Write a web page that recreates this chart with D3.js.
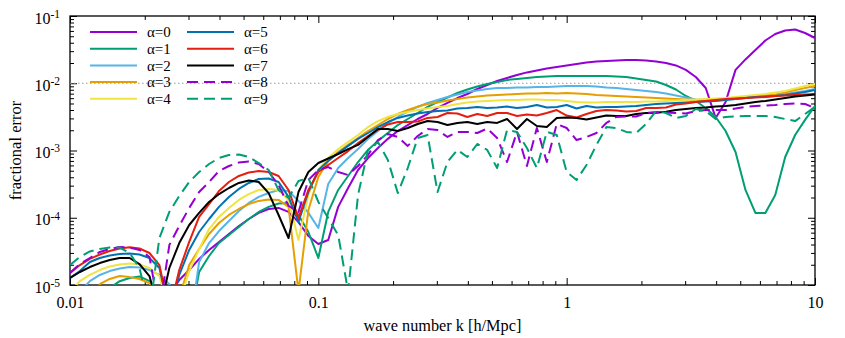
<!DOCTYPE html>
<html>
<head>
<meta charset="utf-8">
<script src="https://cdn.jsdelivr.net/npm/d3@7"></script>
<style>
  body { margin: 0; background: #fff; }
  svg { display: block; font-family: "Liberation Serif", "Times New Roman", serif; }
</style>
</head>
<body>
<div id="chart"></div>
<script>
// --------------------------------------
// Wave numbers k [h/Mpc], 25 points per decade
const kValues = [
    0.01, 0.01096, 0.01202, 0.01318, 0.01445, 0.01585, 0.01738, 0.01905, 0.02089, 0.02291,
    0.02512, 0.02754, 0.03020, 0.03311, 0.03631, 0.03981, 0.04365, 0.04786, 0.05248, 0.05754,
    0.06310, 0.06918, 0.07586, 0.08318, 0.09120,
    0.1, 0.1096, 0.1202, 0.1318, 0.1445, 0.1585, 0.1738, 0.1905, 0.2089, 0.2291,
    0.2512, 0.2754, 0.3020, 0.3311, 0.3631, 0.3981, 0.4365, 0.4786, 0.5248, 0.5754,
    0.6310, 0.6918, 0.7586, 0.8318, 0.9120,
    1, 1.096, 1.202, 1.318, 1.445, 1.585, 1.738, 1.905, 2.089, 2.291,
    2.512, 2.754, 3.020, 3.311, 3.631, 3.981, 4.365, 4.786, 5.248, 5.754,
    6.310, 6.918, 7.586, 8.318, 9.120,
    10
];

// Fractional error for each alpha (values under 1e-5 fall below the plot)
const err0 = [
    4e-6, 4e-6, 4e-6, 4e-6, 4e-6, 4e-6, 4e-6, 4e-6, 4e-6, 4e-6,
    7e-6, 1.19e-5, 1.67e-5, 2.44e-5, 3.32e-5, 4.37e-5, 5.73e-5, 7.54e-5, 9.58e-5, 1.18e-4,
    1.35e-4, 1.40e-4, 1.22e-4, 8.6e-5, 5.35e-5, 4.07e-5, 4.66e-5, 1.45e-4, 2.77e-4, 5.13e-4,
    7.73e-4, 1.09e-3, 1.49e-3, 1.95e-3, 2.39e-3, 2.94e-3, 3.49e-3, 4.29e-3, 5.09e-3, 6.03e-3,
    6.92e-3, 8.21e-3, 9.42e-3, 1.08e-2, 1.20e-2, 1.33e-2, 1.45e-2, 1.55e-2, 1.66e-2, 1.75e-2,
    1.84e-2, 1.93e-2, 2.04e-2, 2.11e-2, 2.14e-2, 2.18e-2, 2.22e-2, 2.22e-2, 2.18e-2, 2.11e-2,
    2.0e-2, 1.84e-2, 1.58e-2, 1.24e-2, 8.5e-3, 3.05e-3, 5.26e-3, 1.58e-2, 2.26e-2, 3.12e-2,
    4.32e-2, 5.40e-2, 6.09e-2, 6.29e-2, 5.59e-2, 4.71e-2
];
const err1 = [
    4e-6, 4e-6, 4e-6, 4e-6, 9e-6, 1.14e-5, 1.27e-5, 1.34e-5, 1.14e-5, 4e-6,
    4e-6, 4e-6, 2.5e-6, 1.56e-5, 2.70e-5, 4.21e-5, 5.54e-5, 7.29e-5, 9.58e-5, 1.22e-4,
    1.45e-4, 1.63e-4, 1.66e-4, 1.10e-4, 6.14e-5, 2.52e-5, 1.22e-4, 2.59e-4, 4.18e-4, 6.74e-4,
    1.02e-3, 1.39e-3, 1.82e-3, 2.39e-3, 2.94e-3, 3.61e-3, 4.44e-3, 5.26e-3, 6.14e-3, 7.16e-3,
    8.07e-3, 8.95e-3, 9.74e-3, 1.04e-2, 1.12e-2, 1.16e-2, 1.20e-2, 1.24e-2, 1.26e-2, 1.28e-2,
    1.28e-2, 1.28e-2, 1.28e-2, 1.28e-2, 1.28e-2, 1.26e-2, 1.24e-2, 1.18e-2, 1.12e-2, 1.06e-2,
    9.42e-3, 8.07e-3, 6.46e-3, 5.45e-3, 4.29e-3, 3.15e-3, 1.95e-3, 9.5e-4, 2.59e-4, 1.18e-4,
    1.18e-4, 2.18e-4, 8.0e-4, 1.70e-3, 2.85e-3, 4.59e-3
];
const err2 = [
    4e-6, 8e-6, 1.14e-5, 1.41e-5, 1.61e-5, 1.76e-5, 1.85e-5, 1.82e-5, 1.67e-5, 1.41e-5,
    1.03e-5, 4e-6, 2e-6, 2.20e-5, 4.21e-5, 6.35e-5, 8.95e-5, 1.26e-4, 1.66e-4, 2.04e-4,
    2.33e-4, 2.59e-4, 2.50e-4, 1.78e-4, 1.18e-4, 7.04e-5, 3.18e-4, 5.49e-4, 7.73e-4, 1.05e-3,
    1.49e-3, 1.95e-3, 2.57e-3, 3.15e-3, 3.80e-3, 4.44e-3, 5.09e-3, 5.64e-3, 6.24e-3, 6.80e-3,
    7.41e-3, 7.80e-3, 8.21e-3, 8.50e-3, 8.50e-3, 8.65e-3, 8.65e-3, 8.80e-3, 8.80e-3, 8.95e-3,
    9.1e-3, 9.1e-3, 9.1e-3, 8.95e-3, 8.65e-3, 8.50e-3, 8.21e-3, 7.93e-3, 7.67e-3, 7.41e-3,
    7.04e-3, 6.58e-3, 6.14e-3, 5.73e-3, 5.64e-3, 5.64e-3, 5.73e-3, 5.83e-3, 6.03e-3, 6.24e-3,
    6.46e-3, 6.69e-3, 6.92e-3, 7.29e-3, 7.67e-3, 8.21e-3
];
const err3 = [
    4e-6, 4e-6, 4e-6, 1.03e-5, 1.23e-5, 1.36e-5, 1.31e-5, 1.23e-5, 1.07e-5, 4e-6,
    4e-6, 6.5e-6, 1.98e-5, 3.43e-5, 5.73e-5, 8.35e-5, 1.10e-4, 1.35e-4, 1.60e-4, 1.78e-4,
    1.87e-4, 1.84e-4, 1.45e-4, 8e-6, 1.3e-4, 4.04e-4, 6.98e-4, 9.5e-4, 1.21e-3, 1.53e-3,
    1.95e-3, 2.39e-3, 2.94e-3, 3.49e-3, 4.0e-3, 4.5e-3, 4.92e-3, 5.18e-3, 5.54e-3, 5.83e-3,
    6.14e-3, 6.35e-3, 6.58e-3, 6.69e-3, 6.80e-3, 6.92e-3, 7.04e-3, 7.04e-3, 7.16e-3, 7.04e-3,
    7.16e-3, 7.04e-3, 6.92e-3, 6.69e-3, 6.58e-3, 6.46e-3, 6.35e-3, 6.24e-3, 6.14e-3, 6.03e-3,
    5.93e-3, 5.83e-3, 5.73e-3, 5.64e-3, 5.64e-3, 5.73e-3, 5.83e-3, 5.93e-3, 6.14e-3, 6.35e-3,
    6.58e-3, 6.80e-3, 7.29e-3, 7.93e-3, 8.50e-3, 9.10e-3
];
const err4 = [
    8e-6, 1.14e-5, 1.41e-5, 1.67e-5, 1.89e-5, 2.02e-5, 2.09e-5, 2.02e-5, 1.79e-5, 1.36e-5,
    4e-6, 5.5e-6, 1.61e-5, 3.43e-5, 6.80e-5, 1.03e-4, 1.40e-4, 1.84e-4, 2.25e-4, 2.59e-4,
    2.68e-4, 2.59e-4, 1.84e-4, 4.66e-5, 2.18e-4, 5.13e-4, 7.73e-4, 1.05e-3, 1.34e-3, 1.70e-3,
    2.23e-3, 2.74e-3, 3.15e-3, 3.49e-3, 3.73e-3, 4.0e-3, 4.21e-3, 4.44e-3, 4.59e-3, 4.92e-3,
    5.18e-3, 5.36e-3, 5.45e-3, 5.54e-3, 5.64e-3, 5.64e-3, 5.73e-3, 5.73e-3, 5.64e-3, 5.64e-3,
    5.45e-3, 5.26e-3, 5.18e-3, 5.18e-3, 5.26e-3, 5.26e-3, 5.26e-3, 5.26e-3, 5.36e-3, 5.36e-3,
    5.45e-3, 5.54e-3, 5.64e-3, 5.73e-3, 5.83e-3, 5.93e-3, 6.03e-3, 6.24e-3, 6.46e-3, 6.69e-3,
    6.92e-3, 7.29e-3, 7.67e-3, 8.35e-3, 9.10e-3, 9.74e-3
];
const err5 = [
    1.27e-5, 1.61e-5, 2.20e-5, 2.52e-5, 2.74e-5, 2.89e-5, 2.94e-5, 2.84e-5, 2.52e-5, 1.79e-5,
    4e-6, 1.41e-5, 3.32e-5, 6.14e-5, 9.58e-5, 1.45e-4, 2.04e-4, 2.68e-4, 3.29e-4, 3.77e-4,
    3.83e-4, 3.40e-4, 2.04e-4, 8.65e-5, 2.41e-4, 5.13e-4, 6.98e-4, 9.18e-4, 1.17e-3, 1.49e-3,
    1.82e-3, 2.23e-3, 2.65e-3, 3.05e-3, 3.31e-3, 3.55e-3, 3.73e-3, 3.87e-3, 3.93e-3, 4.21e-3,
    4.29e-3, 4.44e-3, 4.29e-3, 4.36e-3, 4.51e-3, 4.29e-3, 4.44e-3, 4.75e-3, 4.36e-3, 4.44e-3,
    4.75e-3, 4.21e-3, 4.59e-3, 4.36e-3, 4.44e-3, 4.44e-3, 4.51e-3, 4.59e-3, 4.75e-3, 4.92e-3,
    5.0e-3, 5.09e-3, 5.18e-3, 5.26e-3, 5.36e-3, 5.45e-3, 5.64e-3, 5.83e-3, 6.03e-3, 6.24e-3,
    6.35e-3, 6.46e-3, 6.69e-3, 7.04e-3, 7.41e-3, 7.93e-3
];
const err6 = [
    1.51e-5, 1.98e-5, 2.44e-5, 2.84e-5, 3.20e-5, 3.49e-5, 3.64e-5, 3.49e-5, 2.99e-5, 1.98e-5,
    4e-6, 1.67e-5, 4.37e-5, 1.03e-4, 1.60e-4, 2.50e-4, 3.40e-4, 4.18e-4, 4.71e-4, 4.96e-4,
    4.79e-4, 4.18e-4, 2.59e-4, 9.9e-5, 2.59e-4, 4.79e-4, 6.09e-4, 7.73e-4, 9.8e-4, 1.29e-3,
    1.64e-3, 2.02e-3, 2.44e-3, 2.65e-3, 2.65e-3, 2.70e-3, 3.05e-3, 3.15e-3, 3.61e-3, 3.55e-3,
    3.15e-3, 3.49e-3, 3.26e-3, 3.61e-3, 3.61e-3, 3.26e-3, 3.43e-3, 3.31e-3, 3.61e-3, 4.0e-3,
    3.31e-3, 3.10e-3, 3.49e-3, 3.87e-3, 4.0e-3, 3.93e-3, 3.80e-3, 3.87e-3, 4.29e-3, 4.29e-3,
    4.36e-3, 4.83e-3, 5.0e-3, 5.26e-3, 5.45e-3, 5.64e-3, 5.83e-3, 5.93e-3, 6.03e-3, 6.14e-3,
    6.24e-3, 6.46e-3, 6.58e-3, 6.69e-3, 6.80e-3, 6.92e-3
];
const err7 = [
    1.27e-5, 1.56e-5, 1.85e-5, 2.12e-5, 2.35e-5, 2.52e-5, 2.52e-5, 2.05e-5, 1.36e-5, 4e-6,
    1.79e-5, 4.21e-5, 7.80e-5, 1.18e-4, 1.72e-4, 2.25e-4, 2.77e-4, 3.29e-4, 3.58e-4, 3.40e-4,
    2.33e-4, 1.10e-4, 5.0e-5, 2.41e-4, 4.79e-4, 6.52e-4, 7.60e-4, 8.87e-4, 1.05e-3, 1.21e-3,
    1.59e-3, 2.09e-3, 2.09e-3, 1.95e-3, 2.16e-3, 2.48e-3, 2.74e-3, 2.65e-3, 2.39e-3, 2.57e-3,
    2.65e-3, 2.48e-3, 2.65e-3, 2.57e-3, 2.94e-3, 2.09e-3, 2.94e-3, 2.31e-3, 2.23e-3, 3.05e-3,
    3.10e-3, 3.05e-3, 2.89e-3, 3.10e-3, 3.31e-3, 3.26e-3, 3.26e-3, 3.49e-3, 3.61e-3, 3.65e-3,
    3.77e-3, 4.0e-3, 4.14e-3, 4.29e-3, 4.36e-3, 4.51e-3, 4.59e-3, 4.75e-3, 5.0e-3, 5.26e-3,
    5.45e-3, 5.73e-3, 6.03e-3, 6.35e-3, 6.58e-3, 6.80e-3
];
const err8 = [
    1.51e-5, 2.05e-5, 2.52e-5, 3.10e-5, 3.43e-5, 3.67e-5, 3.61e-5, 3.32e-5, 2.61e-5, 4e-6,
    3.93e-5, 7.54e-5, 1.40e-4, 2.41e-4, 3.40e-4, 4.96e-4, 5.88e-4, 6.63e-4, 6.86e-4, 6.30e-4,
    4.79e-4, 3.07e-4, 1.50e-4, 1.22e-4, 3.64e-4, 5.13e-4, 5.68e-4, 4.79e-4, 4.32e-4, 5.88e-4,
    8.57e-4, 1.43e-3, 1.76e-3, 1.59e-3, 1.17e-3, 1.64e-3, 2.09e-3, 2.02e-3, 1.59e-3, 1.89e-3,
    1.89e-3, 1.82e-3, 2.12e-3, 1.53e-3, 6.74e-4, 1.89e-3, 5.88e-4, 2.16e-3, 6.74e-4, 2.48e-3,
    2.16e-3, 1.43e-3, 1.59e-3, 1.82e-3, 2.57e-3, 3.15e-3, 3.20e-3, 3.20e-3, 3.61e-3, 3.73e-3,
    3.67e-3, 3.61e-3, 3.55e-3, 3.87e-3, 4.0e-3, 4.0e-3, 4.0e-3, 4.21e-3, 4.44e-3, 4.59e-3,
    4.66e-3, 4.75e-3, 4.92e-3, 5.0e-3, 4.92e-3, 4.29e-3
];
const err9 = [
    1.98e-5, 2.61e-5, 3.15e-5, 3.43e-5, 3.61e-5, 3.61e-5, 2.99e-5, 1.79e-5, 4e-6, 5.0e-5,
    1.22e-4, 2.11e-4, 3.40e-4, 4.79e-4, 6.30e-4, 7.73e-4, 8.57e-4, 8.72e-4, 8.0e-4, 6.52e-4,
    5.13e-4, 2.59e-4, 1.97e-4, 3.52e-4, 3.90e-4, 1.72e-4, 9.9e-5, 5.54e-5, 8e-6, 2.18e-4,
    1.02e-3, 1.34e-3, 7.22e-4, 2.33e-4, 5.49e-4, 1.53e-3, 1.70e-3, 2.41e-4, 6.74e-4, 1.02e-3,
    8.0e-4, 1.25e-3, 1.02e-3, 5.49e-4, 2.02e-3, 1.89e-3, 1.09e-3, 5.49e-4, 1.89e-3, 1.70e-3,
    4.79e-4, 3.64e-4, 6.09e-4, 1.21e-3, 2.23e-3, 2.16e-3, 1.89e-3, 1.82e-3, 2.48e-3, 3.87e-3,
    3.61e-3, 3.05e-3, 3.26e-3, 4.14e-3, 3.87e-3, 2.94e-3, 3.15e-3, 3.20e-3, 3.26e-3, 3.26e-3,
    3.26e-3, 3.15e-3, 2.94e-3, 2.74e-3, 3.49e-3, 4.44e-3
];

const seriesValues = [err0, err1, err2, err3, err4, err5, err6, err7, err8, err9];
const seriesNames = ["α=0", "α=1", "α=2", "α=3", "α=4", "α=5", "α=6", "α=7", "α=8", "α=9"];

// Tick labels
const xTickValues = [0.01, 0.1, 1, 10];
const xTickLabels = ["0.01", "0.1", "1", "10"];
const yTickValues = [1e-5, 1e-4, 1e-3, 1e-2, 1e-1];
const yTickExponents = ["-5", "-4", "-3", "-2", "-1"];
const refLevel = 1e-2;

// --------------------------------------
// Styles (gnuplot default palette)
const seriesColors = ["#9400d3", "#009e73", "#56b4e9", "#e69f00", "#f0e442",
                      "#0072b2", "#e51e10", "#000000", "#9400d3", "#009e73"];
const seriesDash = [null, null, null, null, null, null, null, null, "11,6", "11,6"];

const width = 845, height = 338;
const margin = { top: 16, right: 30, bottom: 53, left: 70 };

const svg = d3.select("#chart").append("svg")
    .attr("width", width)
    .attr("height", height);

const x = d3.scaleLog().domain([0.01, 10]).range([margin.left, width - margin.right]);
const y = d3.scaleLog().domain([1e-5, 1e-1]).range([height - margin.bottom, margin.top]);
const plotW = x.range()[1] - x.range()[0];
const plotH = y.range()[0] - y.range()[1];

svg.append("defs").append("clipPath").attr("id", "plot-clip")
    .append("rect")
    .attr("x", margin.left).attr("y", margin.top)
    .attr("width", plotW).attr("height", plotH);

// Minor ticks 2..9 in every decade
const xMinor = [], yMinor = [];
[0.01, 0.1, 1].forEach(d => { for (let m = 2; m <= 9; m++) xMinor.push(d * m); });
[1e-5, 1e-4, 1e-3, 1e-2].forEach(d => { for (let m = 2; m <= 9; m++) yMinor.push(d * m); });

function styleAxis(g) {
    g.select(".domain").remove();
    g.selectAll(".tick line").attr("stroke", "#000").attr("stroke-width", 1);
    g.attr("font-family", null).attr("font-size", 16);
    g.selectAll(".tick text").attr("fill", "#000");
}

// --------------------------------------
// Axes, ticks on all four sides pointing inward
const bottomY = y.range()[0], topY = y.range()[1];
svg.append("g").attr("transform", `translate(0,${bottomY})`)
    .call(d3.axisBottom(x).tickValues(xMinor).tickSize(-4).tickFormat(""))
    .call(styleAxis);
svg.append("g").attr("transform", `translate(0,${bottomY})`)
    .call(d3.axisBottom(x).tickValues(xTickValues).tickSize(-7).tickPadding(12)
        .tickFormat((d, i) => xTickLabels[i]))
    .call(styleAxis);
svg.append("g").attr("transform", `translate(0,${topY})`)
    .call(d3.axisTop(x).tickValues(xMinor).tickSize(-4).tickFormat(""))
    .call(styleAxis);
svg.append("g").attr("transform", `translate(0,${topY})`)
    .call(d3.axisTop(x).tickValues(xTickValues).tickSize(-7).tickFormat(""))
    .call(styleAxis);

const leftX = x.range()[0], rightX = x.range()[1];
svg.append("g").attr("transform", `translate(${leftX},0)`)
    .call(d3.axisLeft(y).tickValues(yMinor).tickSize(-4).tickFormat(""))
    .call(styleAxis);
const yAxisG = svg.append("g").attr("transform", `translate(${leftX},0)`)
    .call(d3.axisLeft(y).tickValues(yTickValues).tickSize(-7).tickPadding(10).tickFormat(""))
    .call(styleAxis);
svg.append("g").attr("transform", `translate(${rightX},0)`)
    .call(d3.axisRight(y).tickValues(yMinor).tickSize(-4).tickFormat(""))
    .call(styleAxis);
svg.append("g").attr("transform", `translate(${rightX},0)`)
    .call(d3.axisRight(y).tickValues(yTickValues).tickSize(-7).tickFormat(""))
    .call(styleAxis);

// 10^n labels with superscript exponent
yAxisG.selectAll(".tick text").each(function (d, i) {
    const t = d3.select(this).attr("dy", "0.45em");
    t.append("tspan").text("10");
    t.append("tspan").attr("dy", "-0.5em").attr("font-size", 11.5).text(yTickExponents[i]);
});

// Frame
svg.append("rect")
    .attr("x", leftX).attr("y", topY)
    .attr("width", plotW).attr("height", plotH)
    .attr("fill", "none").attr("stroke", "#000").attr("stroke-width", 1.3);

// Axis titles
svg.append("text")
    .attr("x", (leftX + rightX) / 2).attr("y", 331)
    .attr("text-anchor", "middle").attr("font-size", 16.3)
    .text("wave number k [h/Mpc]");
svg.append("text")
    .attr("transform", `translate(21,${(topY + bottomY) / 2}) rotate(-90)`)
    .attr("text-anchor", "middle").attr("font-size", 16.5)
    .text("fractional error");

// --------------------------------------
// Curves
const plot = svg.append("g").attr("clip-path", "url(#plot-clip)");

plot.append("line")
    .attr("x1", leftX).attr("x2", rightX)
    .attr("y1", y(refLevel)).attr("y2", y(refLevel))
    .attr("stroke", "#9a9a9a").attr("stroke-width", 1.2)
    .attr("stroke-dasharray", "1.5,2.5");

const line = d3.line()
    .x((d, i) => x(kValues[i]))
    .y(d => y(d));

seriesValues.forEach((vals, s) => {
    plot.append("path")
        .datum(vals)
        .attr("d", line)
        .attr("fill", "none")
        .attr("stroke", seriesColors[s])
        .attr("stroke-width", 2)
        .attr("stroke-linejoin", "round")
        .attr("stroke-dasharray", seriesDash[s]);
});

// --------------------------------------
// Legend, two columns of five
const legend = svg.append("g").attr("font-size", 15);
seriesNames.forEach((name, s) => {
    const col = Math.floor(s / 5), row = s % 5;
    const lx = 90 + col * 97, ly = 32 + row * 16.7;
    legend.append("line")
        .attr("x1", lx).attr("x2", lx + 47)
        .attr("y1", ly).attr("y2", ly)
        .attr("stroke", seriesColors[s])
        .attr("stroke-width", 2)
        .attr("stroke-dasharray", seriesDash[s]);
    legend.append("text")
        .attr("x", lx + 57).attr("y", ly)
        .attr("dy", "0.35em")
        .text(name);
});
</script>
</body>
</html>
